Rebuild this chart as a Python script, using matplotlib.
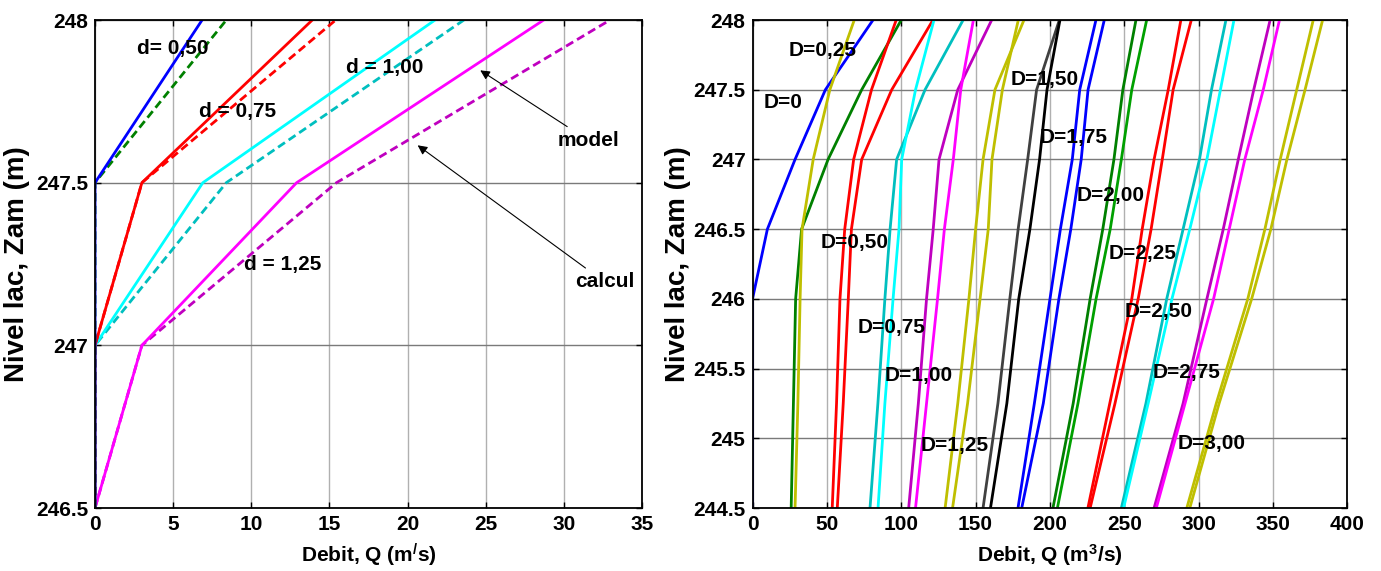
import matplotlib
matplotlib.use('Agg')
import matplotlib.pyplot as plt

# ---- left panel data: lake level vs discharge, model (solid) and calcul (dashed)
z_left = [246.5, 247.0, 247.5, 248.0]
q_model_050 = [0, 0, 0, 6.85]
q_calcul_050 = [0, 0, 0, 8.4]
q_model_075 = [0, 0, 3.0, 13.9]
q_calcul_075 = [0, 0, 3.0, 15.4]
q_model_100 = [0, 0, 6.9, 21.75]
q_calcul_100 = [0, 0, 8.4, 23.6]
q_model_125 = [0, 3.0, 12.9, 28.7]
q_calcul_125 = [0, 3.0, 15.45, 32.95]

# ---- right panel data: one list of Q per curve, all on the same levels
z_right = [244.5, 245.25, 246.0, 246.5, 247.0, 247.5, 248.0]
q_r_000 = [0, 0, 0, 10, 28.6, 49, 81]
q_r_025a = [26, 27.5, 29, 33, 50.8, 73.4, 100]
q_r_025b = [28.6, 30.5, 32, 33.3, 40.8, 52, 68.4]
q_r_050a = [53.6, 56.5, 58.8, 62, 68, 80, 96.6]
q_r_050b = [57, 61, 64.4, 66.5, 73.4, 93.6, 121.3]
q_r_075a = [79, 84.3, 89, 92.5, 96.9, 116, 141.6]
q_r_075b = [84.4, 89, 94.5, 98.5, 100.3, 109.6, 122]
q_r_100a = [105, 111.5, 117, 121.5, 125.4, 138, 160.8]
q_r_100b = [109.6, 117, 124.4, 129, 135, 140, 148.5]
q_r_125a = [129.5, 138, 145.5, 150, 155, 163, 182.5]
q_r_125b = [134.5, 144.6, 153, 158.5, 161, 168, 178.7]
q_r_150a = [155, 165, 173, 178.6, 185, 191, 206.3]
q_r_150b = [160, 171, 179, 186.5, 193, 198, 206.7]
q_r_175a = [178.5, 189.5, 200, 207, 215, 220, 230.9]
q_r_175b = [181, 195.5, 206, 214, 221, 225.6, 236.5]
q_r_200a = [202, 215.6, 227, 235.5, 243, 249, 257.8]
q_r_200b = [205, 218.8, 231, 240.5, 248, 255, 265]
q_r_225a = [225.5, 240.2, 255, 262, 270, 279.5, 288]
q_r_225b = [227, 243.7, 259.3, 268, 275.5, 282.8, 295]
q_r_250a = [248, 264.5, 278.5, 289.5, 300.5, 308.6, 318.3]
q_r_250b = [249.5, 266, 282, 294, 305.5, 314.6, 323.7]
q_r_275a = [270, 289.5, 305.5, 316.5, 326.6, 337, 348]
q_r_275b = [271.5, 290.8, 310, 320.5, 331, 343.4, 354.3]
q_r_300a = [292, 311.8, 333, 344.5, 354.8, 365.9, 377]
q_r_300b = [294, 313.7, 335.6, 348.5, 359.3, 371.5, 383.3]

d_labels_left = ['d= 0,50', 'd = 0,75', 'd = 1,00', 'd = 1,25']
D_labels_right = ['D=0', 'D=0,25', 'D=0,50', 'D=0,75', 'D=1,00', 'D=1,25', 'D=1,50',
                  'D=1,75', 'D=2,00', 'D=2,25', 'D=2,50', 'D=2,75', 'D=3,00']

plt.rcParams['font.family'] = ['Liberation Sans', 'DejaVu Sans']
plt.rcParams['font.weight'] = 'bold'
plt.rcParams['axes.labelweight'] = 'bold'
plt.rcParams['mathtext.fontset'] = 'custom'
plt.rcParams['mathtext.rm'] = 'Liberation Sans:bold'
plt.rcParams['mathtext.it'] = 'Liberation Sans:bold'
plt.rcParams['mathtext.bf'] = 'Liberation Sans:bold'

BLUE, GREEN, DGREEN = '#0000FF', '#00A000', '#008000'
RED, CYAN, DCYAN = '#FF0000', '#00FFFF', '#00BFBF'
MAG, PURP, YEL = '#FF00FF', '#BF00BF', '#BFBF00'
DGRAY, BLACK = '#404040', '#000000'

fig = plt.figure(figsize=(13.81, 5.71), dpi=100)
ax1 = fig.add_axes([0.0688, 0.1103, 0.3961, 0.8546])
ax2 = fig.add_axes([0.5449, 0.1103, 0.4308, 0.8546])

fs = 15
fs_ylab = 20
lw = 2.0
dash = (0, (3, 1.6))

# left panel
ax1.plot(q_calcul_125, z_left, color=PURP, lw=lw, ls=dash)
ax1.plot(q_model_125, z_left, color=MAG, lw=lw)
ax1.plot(q_calcul_100, z_left, color=DCYAN, lw=lw, ls=dash)
ax1.plot(q_model_100, z_left, color=CYAN, lw=lw)
ax1.plot(q_calcul_075, z_left, color=RED, lw=lw, ls=dash)
ax1.plot(q_model_075, z_left, color=RED, lw=lw)
ax1.plot(q_calcul_050, z_left, color=DGREEN, lw=lw, ls=dash)
ax1.plot(q_model_050, z_left, color=BLUE, lw=lw)

ax1.set_xlim(0, 35)
ax1.set_ylim(246.5, 248)
ax1.set_xticks(range(0, 36, 5))
ax1.set_yticks([246.5, 247, 247.5, 248])
ax1.set_yticklabels(['246.5', '247', '247.5', '248'])

ax1.text(5.0, 247.914, d_labels_left[0], fontsize=fs, ha='center', va='center')
ax1.text(9.1, 247.72, d_labels_left[1], fontsize=fs, ha='center', va='center')
ax1.text(18.55, 247.855, d_labels_left[2], fontsize=fs, ha='center', va='center')
ax1.text(12.0, 247.25, d_labels_left[3], fontsize=fs, ha='center', va='center')

arrow = dict(arrowstyle='-|>', color='k', lw=0.8, mutation_scale=14)
ax1.annotate('model', xy=(24.5, 247.85), xytext=(29.6, 247.63), fontsize=fs,
             ha='left', va='center', arrowprops=arrow)
ax1.annotate('calcul', xy=(20.5, 247.62), xytext=(30.7, 247.195), fontsize=fs,
             ha='left', va='center', arrowprops=arrow)

ax1.set_xlabel('Debit, Q (m$^{/}$s)', fontsize=fs, labelpad=6)
ax1.set_ylabel('Nivel lac, Zam (m)', fontsize=fs_ylab, labelpad=4)

# right panel
curves = [
    (q_r_000, BLUE), (q_r_025a, DGREEN), (q_r_025b, YEL),
    (q_r_050a, RED), (q_r_050b, RED),
    (q_r_075a, DCYAN), (q_r_075b, CYAN),
    (q_r_100a, PURP), (q_r_100b, MAG),
    (q_r_125a, YEL), (q_r_125b, YEL),
    (q_r_150a, DGRAY), (q_r_150b, BLACK),
    (q_r_175a, BLUE), (q_r_175b, BLUE),
    (q_r_200a, DGREEN), (q_r_200b, GREEN),
    (q_r_225a, RED), (q_r_225b, RED),
    (q_r_250a, DCYAN), (q_r_250b, CYAN),
    (q_r_275a, PURP), (q_r_275b, MAG),
    (q_r_300a, YEL), (q_r_300b, YEL),
]
for q, c in curves:
    ax2.plot(q, z_right, color=c, lw=lw)

ax2.set_xlim(0, 400)
ax2.set_ylim(244.5, 248)
ax2.set_xticks(range(0, 401, 50))
ax2.set_yticks([244.5, 245, 245.5, 246, 246.5, 247, 247.5, 248])
ax2.set_yticklabels(['244.5', '245', '245.5', '246', '246.5', '247', '247.5', '248'])

D_pos = [(20.5, 247.405), (47.4, 247.785), (68.6, 246.401), (93.7, 245.798),
         (111.9, 245.454), (136.0, 244.952), (196.6, 247.577), (215.8, 247.161),
         (241.0, 246.738), (262.6, 246.329), (273.3, 245.906), (292.0, 245.475),
         (308.9, 244.966)]
for lab, (qx, zy) in zip(D_labels_right, D_pos):
    ax2.text(qx, zy, lab, fontsize=fs, ha='center', va='center')

ax2.set_xlabel('Debit, Q (m$^{3}$/s)', fontsize=fs, labelpad=6)
ax2.set_ylabel('Nivel lac, Zam (m)', fontsize=fs_ylab, labelpad=2)

for ax in (ax1, ax2):
    ax.xaxis.grid(True, color='#b0b0b0', lw=1.0)
    ax.yaxis.grid(True, color='#7a7a7a', lw=1.0)
    ax.set_axisbelow(True)
    ax.tick_params(direction='in', length=4, width=1, top=True, right=True,
                   labelsize=fs, pad=5)
    for s in ax.spines.values():
        s.set_linewidth(1.3)

fig.savefig('out.png', dpi=100)
